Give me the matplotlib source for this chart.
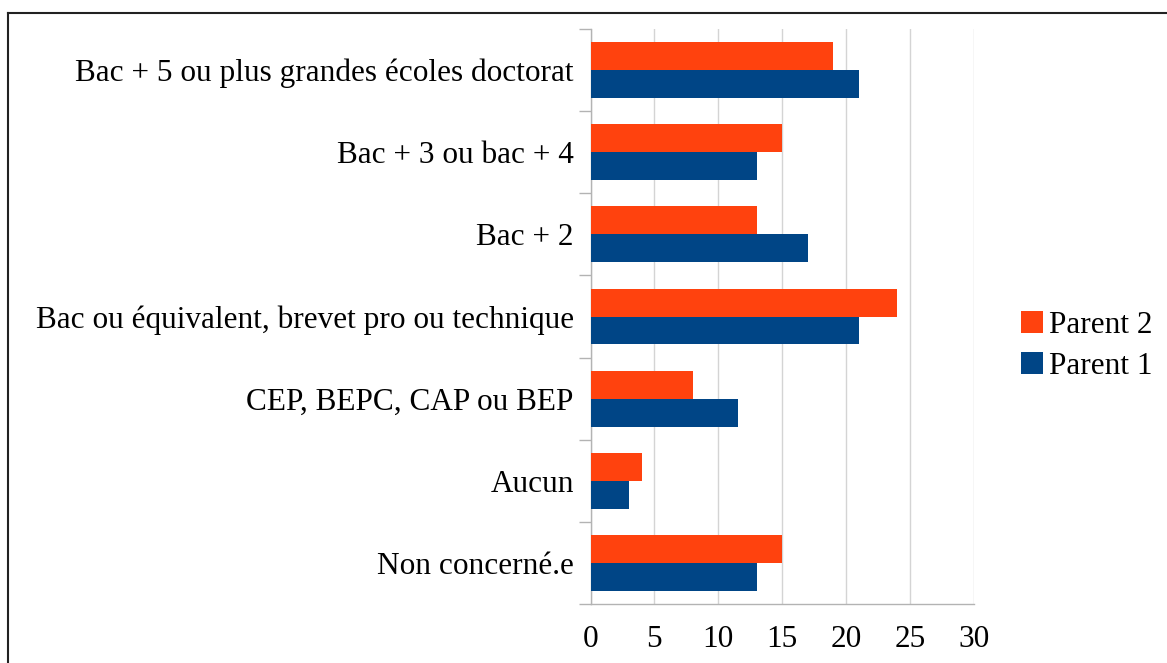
import numpy as np
import matplotlib.pyplot as plt
from matplotlib.lines import Line2D

categories = ['Bac + 5 ou plus grandes écoles doctorat', 'Bac + 3 ou bac + 4', 'Bac + 2',
              'Bac ou équivalent, brevet pro ou technique', 'CEP, BEPC, CAP ou BEP',
              'Aucun', 'Non concerné.e']
parent2 = [19, 15, 13, 24, 8, 4, 15]
parent1 = [21, 13, 17, 21, 11.5, 3, 13]
xticks = [0, 5, 10, 15, 20, 25, 30]

plt.rcParams['font.family'] = ['Liberation Serif', 'DejaVu Serif']

fig = plt.figure(figsize=(11.67, 6.63), dpi=100)
ax = fig.add_axes([590.5 / 1167, 1 - 604 / 663, (974 - 590.5) / 1167, (604 - 29) / 663])

n = len(categories)
y = np.arange(n)[::-1].astype(float)
h = 0.34
ax.barh(y + h / 2, parent2, height=h, color='#ff420e', label='Parent 2', zorder=3)
ax.barh(y - h / 2, parent1, height=h, color='#004586', label='Parent 1', zorder=3)

ax.set_xlim(0, 30)
ax.set_ylim(-0.5, n - 0.5)
ax.set_xticks(xticks)
ax.set_xticklabels([str(t) for t in xticks], fontsize=22.5)
ax.set_yticks(y)
ax.set_yticklabels(categories, fontsize=22.5)
ax.tick_params(axis='y', length=0, pad=12)
ax.tick_params(axis='x', length=0, pad=15)
# category boundary ticks
ax.set_yticks(np.arange(-0.5, n, 1.0), minor=True)
ax.tick_params(axis='y', which='minor', length=9, color='#b3b3b3', width=1)
ax.set_xticks(xticks, minor=True)
ax.tick_params(axis='x', which='minor', length=9, color='#b3b3b3', width=1, direction='out')

ax.grid(axis='x', color='#d4d4d4', linewidth=1, zorder=0)
for s in ['top', 'right']:
    ax.spines[s].set_visible(False)
for s in ['left', 'bottom']:
    ax.spines[s].set_color('#b3b3b3')
    ax.spines[s].set_linewidth(1)

handles, labels = ax.get_legend_handles_labels()
fig.legend(handles, labels, loc='center left', bbox_to_anchor=(993 / 1167, 1 - 346 / 663),
           frameon=False, fontsize=22.5, handlelength=0.7, handleheight=0.7,
           handletextpad=0.2, labelspacing=0.4)

# outer frame (top and left edges only)
fig.add_artist(Line2D([8 / 1167, 8 / 1167], [0, 1 - 13 / 663], transform=fig.transFigure,
                      color='#222222', linewidth=1.5))
fig.add_artist(Line2D([8 / 1167, 1], [1 - 13 / 663, 1 - 13 / 663], transform=fig.transFigure,
                      color='#222222', linewidth=1.5))

fig.savefig('out.png', dpi=100)
